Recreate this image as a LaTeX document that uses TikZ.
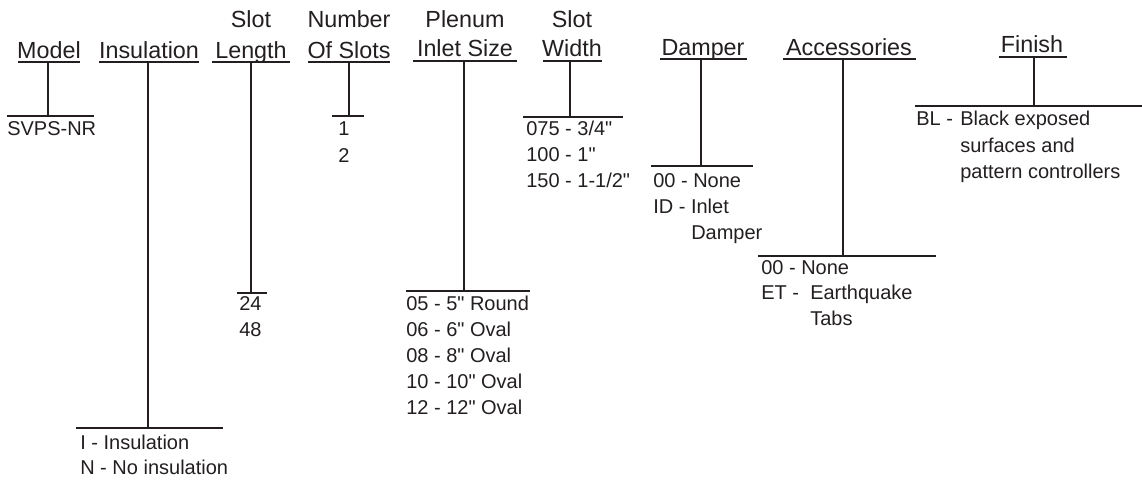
\documentclass[tikz,border=0pt]{standalone}
\usepackage{fontspec}
\setmainfont{Liberation Sans}[Ligatures=TeXOff]
\definecolor{ink}{HTML}{231F20}
\newcommand\headfnt{\fontsize{17.5}{21}\selectfont}
\newcommand\optfnt{\fontsize{15}{19}\selectfont}
\tikzset{
  head/.style={font=\headfnt, inner sep=0pt, anchor=base, text=ink},
  opt/.style={font=\optfnt, inner sep=0pt, anchor=base west, text=ink},
  rulel/.style={draw=ink, line width=1.5pt},
  uline/.style={draw=ink, line width=1.4pt},
}
\begin{document}
\begin{tikzpicture}[x=0.75pt,y=-0.75pt]
\useasboundingbox (0,0) rectangle (1142,479);
% ---------- headings ----------
\node[head] (hModel) at (49,58) {Model};
\node[head] (hIns) at (149,58) {Insulation};
\node[head] (hSlotA) at (251,27) {Slot};
\node[head] (hSlotB) at (251,58) {Length};
\node[head] (hNumA) at (349,27) {Number};
\node[head] (hNumB) at (349,58) {Of Slots};
\node[head] (hPlenA) at (465,27) {Plenum};
\node[head] (hPlenB) at (465,56) {Inlet Size};
\node[head] (hWidA) at (572,27) {Slot};
\node[head] (hWidB) at (572,56) {Width};
\node[head] (hDamp) at (703,55) {Damper};
\node[head] (hAcc) at (849,55) {Accessories};
\node[head] (hFin) at (1032,52) {Finish};
% ---------- underlines ----------
\draw[uline] (18,62) -- (80,62);
\draw[uline] (99,62) -- (199,62);
\draw[uline] (212,62) -- (290,62);
\draw[uline] (308,62) -- (390,62);
\draw[uline] (413,61) -- (517,61);
\draw[uline] (543,61) -- (602,61);
\draw[uline] (660,59) -- (747,59);
\draw[uline] (783,59) -- (916,59);
\draw[uline] (999,57) -- (1067,57);
% ---------- connector coordinates ----------
\coordinate (mT) at (48,62);    \coordinate (mB) at (48,116);
\coordinate (iT) at (147.5,62); \coordinate (iB) at (147.5,428);
\coordinate (lT) at (251,62);   \coordinate (lB) at (251,293);
\coordinate (nT) at (349,62);   \coordinate (nB) at (349,116);
\coordinate (pT) at (464,61);   \coordinate (pB) at (464,291);
\coordinate (wT) at (570,61);   \coordinate (wB) at (570,117);
\coordinate (dT) at (701,59);   \coordinate (dB) at (701,166);
\coordinate (aT) at (843,59);   \coordinate (aB) at (843,256);
\coordinate (fT) at (1034,57);  \coordinate (fB) at (1034,106);
% bars
\coordinate (mL) at (7,116);   \coordinate (mR) at (94,116);
\coordinate (iL) at (76,428);  \coordinate (iR) at (223,428);
\coordinate (lL) at (237,293); \coordinate (lR) at (267,293);
\coordinate (nL) at (332,116); \coordinate (nR) at (364,116);
\coordinate (pL) at (406,291); \coordinate (pR) at (530,291);
\coordinate (wL) at (523,117); \coordinate (wR) at (623,117);
\coordinate (dL) at (651,166); \coordinate (dR) at (753,166);
\coordinate (aL) at (758,256); \coordinate (aR) at (936,256);
\coordinate (fL) at (915,106); \coordinate (fR) at (1142,106);
\foreach \k in {m,i,l,n,p,w,d,a,f}{
  \draw[rulel] (\k T) -- (\k B);
  \draw[rulel] (\k L) -- (\k R);
}
% ---------- options ----------
\node[opt] (oModel) at (7,135) {SVPS-NR};
\node[opt] (oIns1) at (80,449) {I - Insulation};
\node[opt] (oIns2) at (80,474) {N - No insulation};
\node[opt] (oLen1) at (239,310) {24};
\node[opt] (oLen2) at (239,336) {48};
\node[opt] (oNum1) at (338,135) {1};
\node[opt] (oNum2) at (338,162) {2};
\node[opt] (oPl1) at (406,310) {05 - 5" Round};
\node[opt] (oPl2) at (406,336) {06 - 6" Oval};
\node[opt] (oPl3) at (406,362) {08 - 8" Oval};
\node[opt] (oPl4) at (406,388) {10 - 10" Oval};
\node[opt] (oPl5) at (406,414) {12 - 12" Oval};
\node[opt] (oW1) at (526,135) {075 - 3/4"};
\node[opt] (oW2) at (526,161) {100 - 1"};
\node[opt] (oW3) at (526,187) {150 - 1-1/2"};
\node[opt] (oD1) at (653,187) {00 - None};
\node[opt] (oD2) at (653,213) {ID - Inlet};
\node[opt] (oD3) at (691,239) {Damper};
\node[opt] (oA1) at (761,274) {00 - None};
\node[opt] (oA2) at (761,299) {ET -};
\node[opt] (oA3) at (810,299) {Earthquake};
\node[opt] (oA4) at (810,325) {Tabs};
\node[opt] (oF0) at (916,125) {BL -};
\node[opt] (oF1) at (960,125) {Black exposed};
\node[opt] (oF2) at (960,152) {surfaces and};
\node[opt] (oF3) at (960,178) {pattern controllers};
\end{tikzpicture}
\end{document}
